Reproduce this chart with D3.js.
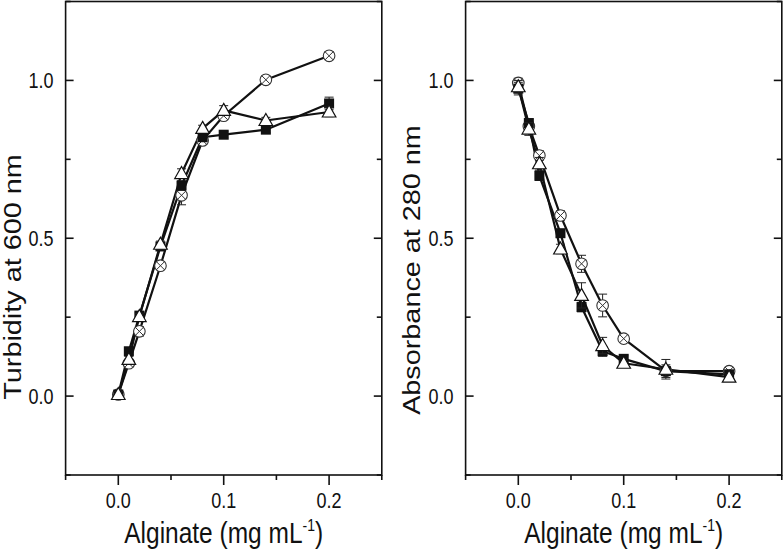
<!DOCTYPE html>
<html>
<head>
<meta charset="utf-8">
<script src="https://cdn.jsdelivr.net/npm/d3@7"></script>
<style>
  html, body { margin: 0; padding: 0; background: #fff; }
  svg { display: block; }
  text { font-family: "Liberation Sans", Arial, sans-serif; fill: #111; }
</style>
</head>
<body>
<svg id="chart" width="784" height="552"></svg>
<script>
// ---------------- data ----------------
const alginate = [0, 0.01, 0.02, 0.04, 0.06, 0.08, 0.1, 0.14, 0.2];

const turbSquare   = [0.005, 0.142, 0.255, 0.474, 0.667, 0.820, 0.828, 0.844, 0.927];
const turbSquareErr= [0.010, 0.010, 0.010, 0.010, 0.015, 0.010, 0.010, 0.010, 0.020];
const turbTriangle = [0.005, 0.116, 0.252, 0.481, 0.705, 0.848, 0.905, 0.873, 0.900];
const turbTriangleErr = [0.010, 0.010, 0.010, 0.010, 0.015, 0.010, 0.015, 0.010, 0.015];
const turbCircle   = [0.005, 0.104, 0.205, 0.413, 0.636, 0.810, 0.888, 1.002, 1.078];
const turbCircleErr= [0.010, 0.010, 0.015, 0.012, 0.030, 0.012, 0.010, 0.010, 0.012];

const absSquare    = [0.974, 0.865, 0.698, 0.516, 0.282, 0.142, 0.118, 0.079, 0.069];
const absSquareErr = [0.020, 0.010, 0.015, 0.010, 0.015, 0.016, 0.010, 0.020, 0.010];
const absTriangle  = [0.980, 0.846, 0.736, 0.466, 0.319, 0.160, 0.104, 0.085, 0.060];
const absTriangleErr = [0.020, 0.020, 0.020, 0.015, 0.040, 0.026, 0.010, 0.031, 0.010];
const absCircle    = [0.992, 0.855, 0.762, 0.572, 0.419, 0.287, 0.182, 0.080, 0.079];
const absCircleErr = [0.015, 0.015, 0.015, 0.015, 0.027, 0.036, 0.010, 0.010, 0.010];

const xMajorTicks = [0, 0.1, 0.2];
const xMinorTicks = [-0.05, 0.05, 0.15, 0.25];
const yMajorTicks = [0, 0.5, 1.0];
const yMinorTicks = [-0.25, 0.25, 0.75, 1.25];
const xTickLabels = ["0.0", "0.1", "0.2"];
const yTickLabels = ["0.0", "0.5", "1.0"];

const panels = [
  { left: 65.6, right: 381.8, title: "Turbidity at 600 nm", titleY: 277, titleX: 20.5,
    series: [
      { shape: "circle", values: turbCircle, err: turbCircleErr },
      { shape: "square", values: turbSquare, err: turbSquareErr },
      { shape: "triangle", values: turbTriangle, err: turbTriangleErr }
    ] },
  { left: 465.6, right: 781.8, title: "Absorbance at 280 nm", titleY: 270, titleX: 420,
    series: [
      { shape: "circle", values: absCircle, err: absCircleErr },
      { shape: "square", values: absSquare, err: absSquareErr },
      { shape: "triangle", values: absTriangle, err: absTriangleErr }
    ] }
];

// ---------------- drawing ----------------
const svg = d3.select("#chart");
const TOP = 1.5, BOTTOM = 475;
const STRETCH = 1.2;

panels.forEach(p => {
  const x = d3.scaleLinear().domain([-0.05, 0.25]).range([p.left, p.right]);
  const y = d3.scaleLinear().domain([-0.25, 1.25]).range([BOTTOM, TOP]);
  const g = svg.append("g");

  // frame
  g.append("rect")
    .attr("x", x(-0.05)).attr("y", y(1.25))
    .attr("width", x(0.25) - x(-0.05)).attr("height", y(-0.25) - y(1.25))
    .attr("fill", "none").attr("stroke", "#111").attr("stroke-width", 1.6);

  // x ticks (outward, bottom)
  xMajorTicks.forEach(t => {
    g.append("line").attr("x1", x(t)).attr("x2", x(t)).attr("y1", BOTTOM).attr("y2", BOTTOM + 10)
      .attr("stroke", "#111").attr("stroke-width", 1.6);
  });
  xMinorTicks.forEach(t => {
    g.append("line").attr("x1", x(t)).attr("x2", x(t)).attr("y1", BOTTOM).attr("y2", BOTTOM + 5)
      .attr("stroke", "#111").attr("stroke-width", 1.6);
  });
  xMajorTicks.forEach((t, i) => {
    g.append("text")
      .attr("transform", `translate(${x(t)},508) scale(1,${STRETCH})`)
      .attr("text-anchor", "middle").attr("font-size", 18)
      .text(xTickLabels[i]);
  });

  // y ticks (inward, both sides)
  const xl = x(-0.05), xr = x(0.25);
  yMajorTicks.forEach(t => {
    g.append("line").attr("x1", xl).attr("x2", xl + 8).attr("y1", y(t)).attr("y2", y(t))
      .attr("stroke", "#111").attr("stroke-width", 1.6);
    g.append("line").attr("x1", xr).attr("x2", xr - 8).attr("y1", y(t)).attr("y2", y(t))
      .attr("stroke", "#111").attr("stroke-width", 1.6);
  });
  yMinorTicks.forEach(t => {
    g.append("line").attr("x1", xl).attr("x2", xl + 5).attr("y1", y(t)).attr("y2", y(t))
      .attr("stroke", "#111").attr("stroke-width", 1.6);
    g.append("line").attr("x1", xr).attr("x2", xr - 5).attr("y1", y(t)).attr("y2", y(t))
      .attr("stroke", "#111").attr("stroke-width", 1.6);
  });
  yMajorTicks.forEach((t, i) => {
    g.append("text")
      .attr("transform", `translate(${xl - 12},${y(t)}) scale(1,${STRETCH})`)
      .attr("text-anchor", "end").attr("font-size", 18).attr("dy", "0.36em")
      .text(yTickLabels[i]);
  });

  // axis titles
  g.append("text")
    .attr("transform", `translate(${p.titleX},${p.titleY}) scale(1,${STRETCH}) rotate(-90)`)
    .attr("text-anchor", "middle").attr("font-size", 24)
    .text(p.title);

  const xt = g.append("text")
    .attr("transform", `translate(${(xl + xr) / 2},543) scale(1,${STRETCH})`)
    .attr("text-anchor", "middle").attr("font-size", 24.5);
  xt.append("tspan").text("Alginate (mg mL");
  xt.append("tspan").attr("font-size", 14).attr("dy", -10).text("-1");
  xt.append("tspan").attr("dy", 10).text(")");

  // lines
  const line = d3.line().x((d, i) => x(alginate[i])).y(d => y(d));
  p.series.forEach(s => {
    g.append("path").datum(s.values).attr("d", line)
      .attr("fill", "none").attr("stroke", "#111").attr("stroke-width", 2.2)
      .attr("stroke-linejoin", "round");
  });

  // error bars + markers
  p.series.forEach(s => {
    const sg = g.append("g");
    s.values.forEach((v, i) => {
      const cx = x(alginate[i]);
      const lo = y(v - s.err[i]), hi = y(v + s.err[i]);
      sg.append("line").attr("x1", cx).attr("x2", cx).attr("y1", lo).attr("y2", hi)
        .attr("stroke", "#222").attr("stroke-width", 1);
      [lo, hi].forEach(yy => sg.append("line").attr("x1", cx - 4.5).attr("x2", cx + 4.5)
        .attr("y1", yy).attr("y2", yy).attr("stroke", "#222").attr("stroke-width", 1));
    });
    s.values.forEach((v, i) => {
      const cx = x(alginate[i]), cy = y(v);
      if (s.shape === "square") {
        sg.append("rect").attr("x", cx - 5).attr("y", cy - 5).attr("width", 10).attr("height", 10)
          .attr("fill", "#111");
      } else if (s.shape === "triangle") {
        sg.append("path")
          .attr("d", `M${cx},${cy - 7}L${cx + 6.8},${cy + 5}L${cx - 6.8},${cy + 5}Z`)
          .attr("fill", "#fff").attr("stroke", "#111").attr("stroke-width", 1.2);
      } else {
        const r = 5.8, k = r * 0.7071;
        sg.append("circle").attr("cx", cx).attr("cy", cy).attr("r", r)
          .attr("fill", "#fff").attr("stroke", "#333").attr("stroke-width", 1.1);
        sg.append("path")
          .attr("d", `M${cx - k},${cy - k}L${cx + k},${cy + k}M${cx + k},${cy - k}L${cx - k},${cy + k}`)
          .attr("stroke", "#333").attr("stroke-width", 1);
      }
    });
  });
});
</script>
</body>
</html>
